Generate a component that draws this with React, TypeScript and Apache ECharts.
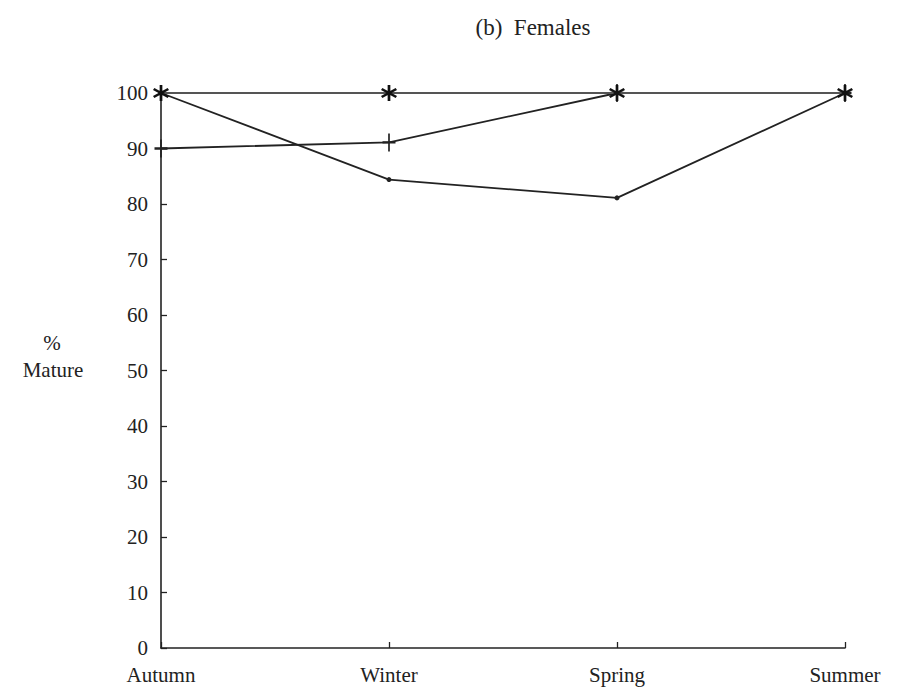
import React, { useEffect, useRef } from "react";
import * as echarts from "echarts";

// Seasons on the x axis
const seasons = ["Autumn", "Winter", "Spring", "Summer"];

// Percentage of mature females per season, one array per group
const groupStar = [100, 100, 100, 100];
const groupPlus = [90, 91.1, 100, 100];
const groupDot = [100, 84.4, 81.1, 100];

// Y axis range and step
const yMin = 0;
const yMax = 100;
const yStep = 10;

// Six-armed asterisk built from three rotated bars
const asteriskPath =
  "path://M-1.6,10L1.6,10L1.6,-10L-1.6,-10Z" +
  "M7.86,6.39L9.46,3.61L-7.86,-6.39L-9.46,-3.61Z" +
  "M-9.46,3.61L-7.86,6.39L9.46,-3.61L7.86,-6.39Z";

const plusPath =
  "path://M-1.3,-10L1.3,-10L1.3,-1.3L10,-1.3L10,1.3L1.3,1.3L1.3,10L-1.3,10L-1.3,1.3L-10,1.3L-10,-1.3L-1.3,-1.3Z";

const FONT = "'Liberation Serif', 'DejaVu Serif', serif";
const INK = "#222222";

export default function App() {
  const ref = useRef<HTMLDivElement>(null);

  useEffect(() => {
    if (!ref.current) return;
    const chart = echarts.init(ref.current, undefined, { renderer: "svg" });
    chart.setOption({
      animation: false,
      backgroundColor: "#ffffff",
      title: {
        text: "(b)  Females",
        left: 528,
        top: 11,
        textAlign: "center",
        textStyle: { fontFamily: FONT, fontSize: 23, fontWeight: "normal", color: INK },
      },
      graphic: [
        {
          type: "text",
          x: 52,
          y: 343,
          style: { text: "%", font: `21px ${FONT}`, fill: INK, align: "center", verticalAlign: "middle" },
        },
        {
          type: "text",
          x: 53,
          y: 370,
          style: { text: "Mature", font: `21px ${FONT}`, fill: INK, align: "center", verticalAlign: "middle" },
        },
      ],
      grid: { left: 161, right: 55, top: 93, bottom: 46 },
      xAxis: {
        type: "category",
        data: seasons,
        boundaryGap: false,
        axisLine: { lineStyle: { color: INK, width: 1.6 } },
        axisTick: { inside: true, length: 6, lineStyle: { color: INK, width: 1.3 } },
        axisLabel: { fontFamily: FONT, fontSize: 21, color: INK, margin: 16 },
        splitLine: { show: false },
      },
      yAxis: {
        type: "value",
        min: yMin,
        max: yMax,
        interval: yStep,
        axisLine: { show: true, lineStyle: { color: INK, width: 1.6 } },
        axisTick: { show: true, inside: true, length: 6, lineStyle: { color: INK, width: 1.3 } },
        axisLabel: { fontFamily: FONT, fontSize: 21, color: INK, margin: 13 },
        splitLine: { show: false },
      },
      series: [
        {
          type: "line",
          data: groupDot,
          symbol: "circle",
          symbolSize: 5,
          lineStyle: { color: INK, width: 1.8 },
          itemStyle: { color: INK },
          z: 2,
        },
        {
          type: "line",
          data: groupPlus,
          symbol: plusPath,
          symbolSize: [13, 18],
          lineStyle: { color: INK, width: 1.8 },
          itemStyle: { color: INK },
          z: 3,
        },
        {
          type: "line",
          data: groupStar,
          symbol: asteriskPath,
          symbolSize: 16,
          lineStyle: { color: "#555555", width: 2 },
          itemStyle: { color: "#111111" },
          z: 4,
        },
      ],
    });
    return () => chart.dispose();
  }, []);

  return (
    <div
      ref={ref}
      style={{ position: "fixed", left: 0, top: 0, width: 900, height: 694 }}
    />
  );
}
